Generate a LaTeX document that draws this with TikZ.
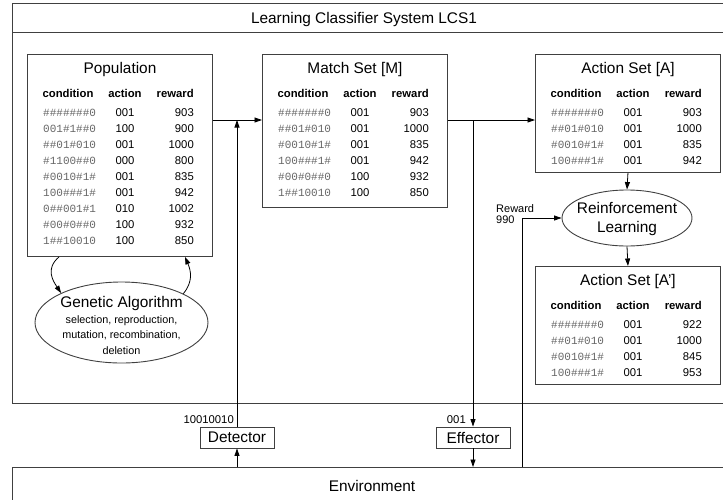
\documentclass[tikz,border=0pt]{standalone}
\usepackage{fontspec}
\setmainfont{Liberation Sans}
\newfontfamily\condfont{Liberation Mono}
\usetikzlibrary{arrows.meta,shapes.geometric,calc}

\tikzset{
  frame/.style={draw=black!75, line width=0.9pt},
  tablebox/.style={frame, fill=white, minimum width=185pt, inner sep=0pt},
  bigtext/.style={font=\fontsize{15.4}{18}\selectfont, inner sep=0pt},
  headtext/.style={font=\fontsize{11.3}{13}\selectfont\bfseries, inner sep=0pt},
  celltext/.style={font=\fontsize{11.3}{13}\selectfont, inner sep=0pt},
  condtext/.style={font=\fontsize{11}{13}\condfont, text=black!60, inner sep=0pt},
  smalltext/.style={font=\fontsize{10.8}{13}\selectfont, inner sep=0pt},
  iobox/.style={frame, minimum width=74pt, minimum height=21pt, inner sep=0pt,
    font=\fontsize{15.4}{18}\selectfont},
  flow/.style={draw=black, line width=0.8pt, -{Triangle[length=7.5pt,width=5pt]}},
}

% classifier table: name, left x, top y, height, title, rows (condition/action/reward)
\newcommand\classtable[6]{%
  \node[tablebox, minimum height=#4pt, anchor=north west] (#1) at (#2,#3) {};
  \node[bigtext, anchor=base] (#1-t) at ($(#1.north)+(0,19.5)$) {#5};
  \node[headtext, anchor=base] (#1-hc) at ($(#1.north west)+(41,43)$) {condition};
  \node[headtext, anchor=base] (#1-ha) at ($(#1.north west)+(98,43)$) {action};
  \node[headtext, anchor=base east] (#1-hr) at ($(#1.north west)+(167,43)$) {reward};
  \foreach \c/\a/\r [count=\i] in {#6} {
    \node[condtext, anchor=base west] (#1-c\i) at ($(#1.north west)+(16,{45.9+16.1*\i})$) {\c};
    \node[celltext, anchor=base] (#1-a\i) at ($(#1.north west)+(98,{45.9+16.1*\i})$) {\a};
    \node[celltext, anchor=base east] (#1-r\i) at ($(#1.north west)+(167,{45.9+16.1*\i})$) {\r};
  }%
}

\begin{document}
\begin{tikzpicture}[x=1pt, y=-1pt]
  \useasboundingbox (0,0) rectangle (723,499);
  \clip (0,0) rectangle (723,499);

  % system frame with its title bar
  \node[frame, anchor=north west, minimum width=740pt, minimum height=400pt, inner sep=0pt] (lcs) at (12,3) {};
  \coordinate (bar) at (12,32);
  \draw[frame] (bar) -- (bar -| lcs.east);
  \node[bigtext, anchor=base] (lcs-title) at (364,23) {Learning Classifier System LCS1};

  % environment
  \node[frame, anchor=north west, minimum width=740pt, minimum height=60pt, inner sep=0pt] (env) at (12,467) {};
  \node[bigtext, anchor=base] (env-title) at (372,491) {Environment};

  % classifier sets
  \classtable{pop}{27}{54}{202}{Population}{%
    \#\#\#\#\#\#\#0/001/903, 001\#1\#\#0/100/900, \#\#01\#010/001/1000,
    \#1100\#\#0/000/800, \#0010\#1\#/001/835, 100\#\#\#1\#/001/942,
    0\#\#001\#1/010/1002, \#00\#0\#\#0/100/932, 1\#\#10010/100/850}
  \classtable{match}{262}{54}{153}{Match Set [M]}{%
    \#\#\#\#\#\#\#0/001/903, \#\#01\#010/001/1000, \#0010\#1\#/001/835,
    100\#\#\#1\#/001/942, \#00\#0\#\#0/100/932, 1\#\#10010/100/850}
  \classtable{actA}{535}{54}{118}{Action Set [A]}{%
    \#\#\#\#\#\#\#0/001/903, \#\#01\#010/001/1000, \#0010\#1\#/001/835,
    100\#\#\#1\#/001/942}
  \classtable{actB}{535}{266}{118}{Action Set [A']}{%
    \#\#\#\#\#\#\#0/001/922, \#\#01\#010/001/1000, \#0010\#1\#/001/845,
    100\#\#\#1\#/001/953}

  % genetic algorithm
  \node[frame, ellipse, minimum width=173pt, minimum height=81pt, inner sep=0pt] (ga) at (121.5,322.5) {};
  \node[bigtext, anchor=base] (ga-t) at (121.5,307) {Genetic Algorithm};
  \node[smalltext, anchor=base] (ga-l1) at (121.5,323.5) {selection, reproduction,};
  \node[smalltext, anchor=base] (ga-l2) at (121.5,338.5) {mutation, recombination,};
  \node[smalltext, anchor=base] (ga-l3) at (121.5,354) {deletion};

  % reinforcement learning
  \node[frame, ellipse, minimum width=130pt, minimum height=56pt, inner sep=0pt] (rl) at (627,218) {};
  \node[bigtext, anchor=base] (rl-t1) at (627,213) {Reinforcement};
  \node[bigtext, anchor=base] (rl-t2) at (627,232) {Learning};

  % detector and effector
  \node[iobox] (det) at (237,437.5) {Detector};
  \node[iobox] (eff) at (473,437.5) {Effector};
  \node[celltext, anchor=base east] (det-msg) at (234,423) {10010010};
  \node[celltext, anchor=base east] (eff-msg) at (466,423) {001};

  % message flow
  \coordinate (joinD) at (237,120);
  \coordinate (joinE) at (473,120);
  \coordinate (rwd) at (522,218);
  \draw[flow] (pop.east |- joinD) -- (match.west |- joinD);
  \draw[flow] (det.north) -- (joinD);
  \draw[flow] (env.north -| det) -- (det.south);
  \draw[flow] (match.east |- joinE) -- (actA.west |- joinE);
  \draw[flow] (joinE) -- (eff.north);
  \draw[flow] (eff.south) -- (env.north -| eff);
  \draw[flow] (env.north -| rwd) -- (rwd) -- (rl.west);
  \node[smalltext, anchor=base west, font=\fontsize{11}{13}\selectfont] (rwd-l1) at (496,212.7) {Reward};
  \node[smalltext, anchor=base west, font=\fontsize{11}{13}\selectfont] (rwd-l2) at (496,223) {990};
  \draw[flow] (actA.south) -- (rl.north);
  \draw[flow] (rl.south) -- (actB.north);

  % genetic algorithm loop
  \draw[flow] ([xshift=32pt]pop.south west) .. controls +(-14,12) and +(-8,-12) .. (ga.154);
  \draw[flow] (ga.25) .. controls +(10,-12) and +(6,14) .. ([xshift=158pt]pop.south west);
\end{tikzpicture}
\end{document}
